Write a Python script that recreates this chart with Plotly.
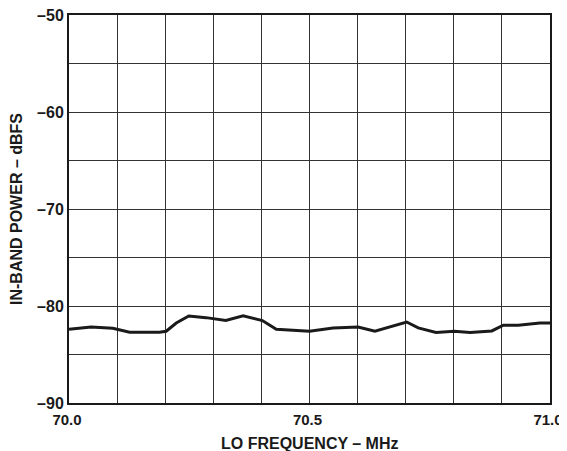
import plotly.graph_objects as go

# LO frequency (MHz) and in-band power (dBFS)
freq_mhz = [70.0, 70.046, 70.091, 70.126, 70.188, 70.202, 70.223, 70.249,
            70.285, 70.326, 70.362, 70.402, 70.431, 70.5, 70.549, 70.601,
            70.636, 70.702, 70.726, 70.763, 70.801, 70.834, 70.879, 70.903,
            70.934, 70.979, 71.0]
power_dbfs = [-82.4, -82.16, -82.3, -82.7, -82.7, -82.6, -81.75, -81.03,
              -81.2, -81.5, -81.0, -81.5, -82.4, -82.6, -82.26, -82.16,
              -82.6, -81.65, -82.26, -82.73, -82.6, -82.73, -82.57, -81.98,
              -81.98, -81.75, -81.75]

x_ticks = [70.0, 70.5, 71.0]
x_labels = ["70.0", "70.5", "71.0"]
y_ticks = [-90, -80, -70, -60, -50]
y_labels = ["–90", "–80", "–70", "–60", "–50"]

FONT = "Liberation Sans, Arial, sans-serif"
INK = '#1a1a1a'

fig = go.Figure()
fig.add_trace(
    go.Scatter(
        x=freq_mhz,
        y=power_dbfs,
        mode='lines',
        line=dict(color=INK, width=3),
        showlegend=False
    )
)

# the page body has an 8px margin, so the figure is a bit smaller than the window
fig.update_layout(
    width=559,
    height=443,
    margin=dict(l=61, r=17, t=7, b=48),
    paper_bgcolor='white',
    plot_bgcolor='white',
    font=dict(family=FONT, size=14, color=INK),
)

fig.update_xaxes(
    range=[70.0, 71.0],
    tickvals=x_ticks,
    ticktext=x_labels,
    tickfont=dict(family=FONT, size=15, color=INK, weight='bold'),
    ticks='',
    ticklabeloverflow='allow',
    ticklabelstandoff=2,
    ticklabelshift=-2,
    automargin=False,
    showgrid=True,
    gridcolor='#333333',
    gridwidth=1.2,
    minor=dict(dtick=0.1, tick0=70.0, showgrid=True, gridcolor='#333333', gridwidth=1.2),
    showline=True,
    linecolor=INK,
    linewidth=2,
    mirror=True,
    zeroline=False,
)

fig.update_yaxes(
    range=[-90, -50],
    tickvals=y_ticks,
    ticktext=y_labels,
    tickfont=dict(family=FONT, size=16, color=INK, weight='bold'),
    ticks='',
    ticklabeloverflow='allow',
    automargin=False,
    showgrid=True,
    gridcolor='#333333',
    gridwidth=1.2,
    minor=dict(dtick=5, tick0=-90, showgrid=True, gridcolor='#333333', gridwidth=1.2),
    showline=True,
    linecolor=INK,
    linewidth=2,
    mirror=True,
    zeroline=False,
    title=dict(text='IN-BAND POWER – dBFS',
               font=dict(family=FONT, size=16, color=INK, weight='bold'),
               standoff=22),
)

# x axis title placed by hand (standoff is ignored without automargin)
fig.add_annotation(
    text='LO FREQUENCY – MHz',
    xref='paper', yref='paper',
    x=0.5, y=0,
    xanchor='center', yanchor='middle',
    yshift=-40,
    showarrow=False,
    font=dict(family=FONT, size=16, color=INK, weight='bold'),
)

fig.write_html("out.html")
